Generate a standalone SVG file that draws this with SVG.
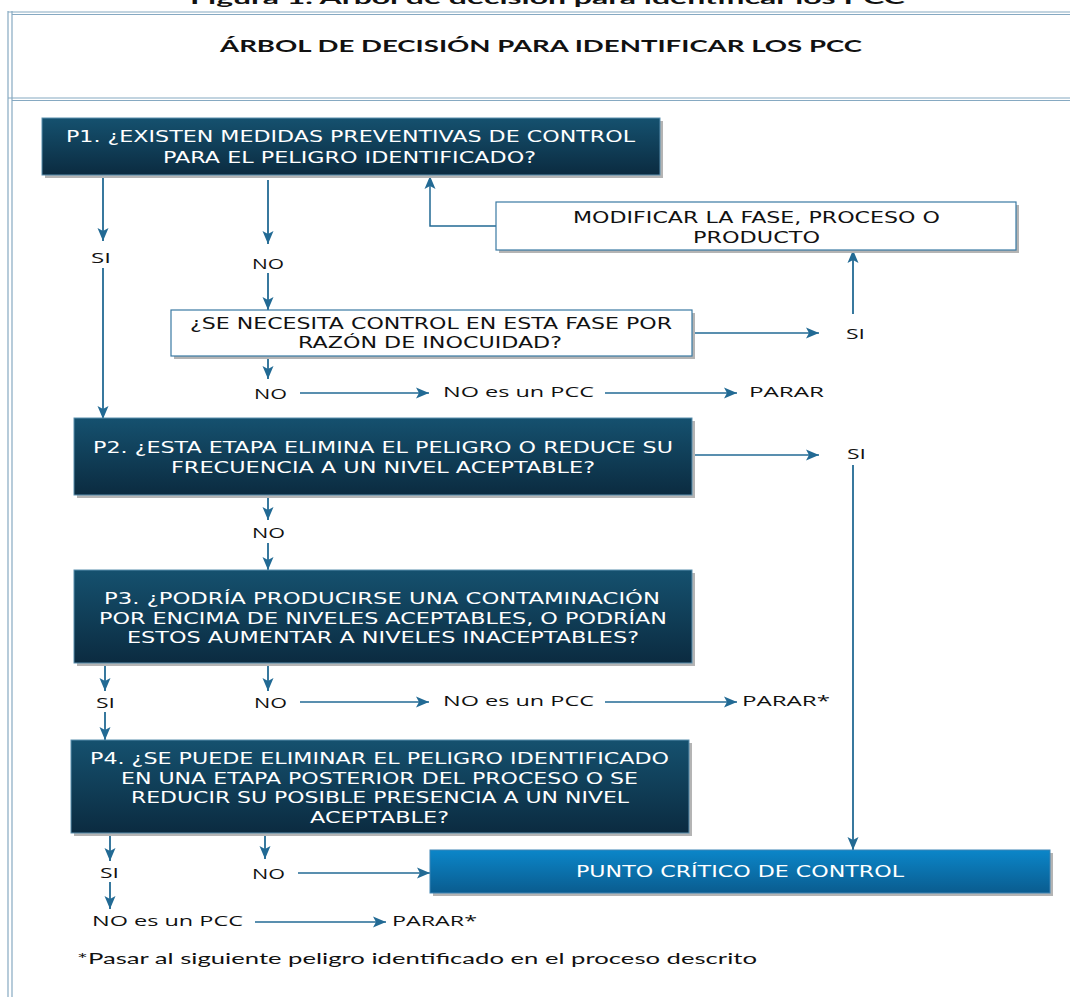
<svg xmlns="http://www.w3.org/2000/svg" width="1070" height="997" viewBox="0 0 1070 997">
<defs>
<style>
.frame{stroke:#86a9c2;stroke-width:1.2;fill:none}
.c{stroke:#226a94;stroke-width:1.8;fill:none}
.ch{stroke:#226a94;stroke-width:1.5;fill:none}
.dark{fill:url(#gDark);stroke:#5b8fae;stroke-width:1}
.light{fill:url(#gLight);stroke:#3f85b5;stroke-width:1}
.white{fill:#ffffff;stroke:#3a7aa3;stroke-width:1.2}
.shadow{fill:#b4b4b4}
.bt{font-family:"DejaVu Sans","Open Sans",sans-serif;font-size:15.5px;fill:#ffffff}
.btk{font-family:"DejaVu Sans","Open Sans",sans-serif;font-size:15.5px;fill:#111111}
.lb{font-family:"Open Sans","DejaVu Sans",sans-serif;font-size:15px;fill:#111111}
.ft{font-family:"Lato","Open Sans",sans-serif;font-size:16px;fill:#111111}
.tt{font-family:"Lato","Liberation Sans",sans-serif;font-size:17px;font-weight:bold;fill:#111111}
</style>
<linearGradient id="gDark" x1="0" y1="0" x2="0" y2="1">
<stop offset="0" stop-color="#15516f"/>
<stop offset="1" stop-color="#0b2b40"/>
</linearGradient>
<linearGradient id="gLight" x1="0" y1="0" x2="0" y2="1">
<stop offset="0" stop-color="#0b86c9"/>
<stop offset="1" stop-color="#0a5c8f"/>
</linearGradient>
<marker id="ah" markerUnits="userSpaceOnUse" markerWidth="14" markerHeight="14" viewBox="0 0 14 14" refX="13" refY="7" orient="auto">
<path d="M0,1.5 L13,7 L0,12.5 L3,7 Z" fill="#226a94"/>
</marker>
</defs>

<g id="frame">
<text x="190" y="4" class="tt" textLength="715" lengthAdjust="spacingAndGlyphs">Figura 1. Árbol de decisión para identificar los PCC</text>
<line class="frame" x1="8" y1="11" x2="8" y2="997"/>
<line class="frame" x1="12" y1="11" x2="12" y2="997"/>
<line class="frame" x1="8" y1="12" x2="1070" y2="12"/>
<line class="frame" x1="12" y1="14.5" x2="1070" y2="14.5"/>
<line class="frame" x1="8" y1="98" x2="1070" y2="98"/>
<line class="frame" x1="12" y1="100.5" x2="1070" y2="100.5"/>
<text x="220" y="52" class="tt" textLength="642" lengthAdjust="spacingAndGlyphs">ÁRBOL DE DECISIÓN PARA IDENTIFICAR LOS PCC</text>
</g>

<g id="connectors">
<line class="c" x1="103" y1="175" x2="103" y2="241" marker-end="url(#ah)"/>
<line class="c" x1="103" y1="268" x2="103" y2="419" marker-end="url(#ah)"/>
<line class="c" x1="268" y1="180" x2="268" y2="244" marker-end="url(#ah)"/>
<line class="c" x1="268" y1="273" x2="268" y2="310" marker-end="url(#ah)"/>
<polyline class="ch" points="496,226 430,226 430,176" marker-end="url(#ah)"/>
<line class="ch" x1="692" y1="333" x2="819" y2="333" marker-end="url(#ah)"/>
<line class="c" x1="853" y1="314" x2="853" y2="250" marker-end="url(#ah)"/>
<line class="c" x1="268" y1="356" x2="268" y2="379" marker-end="url(#ah)"/>
<line class="ch" x1="300" y1="393" x2="429" y2="393" marker-end="url(#ah)"/>
<line class="ch" x1="605" y1="393" x2="737" y2="393" marker-end="url(#ah)"/>
<line class="ch" x1="692" y1="455" x2="819" y2="455" marker-end="url(#ah)"/>
<line class="c" x1="853" y1="465" x2="853" y2="850" marker-end="url(#ah)"/>
<line class="c" x1="268" y1="495" x2="268" y2="520" marker-end="url(#ah)"/>
<line class="c" x1="268" y1="543" x2="268" y2="570" marker-end="url(#ah)"/>
<line class="c" x1="105" y1="663" x2="105" y2="691" marker-end="url(#ah)"/>
<line class="c" x1="105" y1="712" x2="105" y2="740" marker-end="url(#ah)"/>
<line class="c" x1="268" y1="663" x2="268" y2="691" marker-end="url(#ah)"/>
<line class="ch" x1="300" y1="702" x2="429" y2="702" marker-end="url(#ah)"/>
<line class="ch" x1="605" y1="702" x2="737" y2="702" marker-end="url(#ah)"/>
<line class="c" x1="110" y1="834" x2="110" y2="861" marker-end="url(#ah)"/>
<line class="c" x1="110" y1="882" x2="110" y2="909" marker-end="url(#ah)"/>
<line class="ch" x1="255" y1="922" x2="386" y2="922" marker-end="url(#ah)"/>
<line class="c" x1="265" y1="834" x2="265" y2="859" marker-end="url(#ah)"/>
<line class="ch" x1="298" y1="873" x2="430" y2="873" marker-end="url(#ah)"/>
</g>

<g id="p1">
<rect class="shadow" x="45" y="121" width="618" height="57"/>
<rect class="dark" x="42" y="118" width="618" height="57"/>
<text class="bt" x="66" y="142" textLength="569" lengthAdjust="spacingAndGlyphs">P1. ¿EXISTEN MEDIDAS PREVENTIVAS DE CONTROL</text>
<text class="bt" x="163" y="163" textLength="373" lengthAdjust="spacingAndGlyphs">PARA EL PELIGRO IDENTIFICADO?</text>
</g>

<g id="modificar">
<rect class="shadow" x="499" y="205" width="520" height="48"/>
<rect class="white" x="496" y="202" width="520" height="48"/>
<text class="btk" x="573" y="223" textLength="367" lengthAdjust="spacingAndGlyphs">MODIFICAR LA FASE, PROCESO O</text>
<text class="btk" x="693" y="243" textLength="127" lengthAdjust="spacingAndGlyphs">PRODUCTO</text>
</g>

<g id="se-necesita">
<rect class="shadow" x="174" y="313" width="521" height="46"/>
<rect class="white" x="171" y="310" width="521" height="46"/>
<text class="btk" x="190" y="329" textLength="482" lengthAdjust="spacingAndGlyphs">¿SE NECESITA CONTROL EN ESTA FASE POR</text>
<text class="btk" x="298" y="348" textLength="264" lengthAdjust="spacingAndGlyphs">RAZÓN DE INOCUIDAD?</text>
</g>

<g id="p2">
<rect class="shadow" x="77" y="421" width="618" height="77"/>
<rect class="dark" x="74" y="418" width="618" height="77"/>
<text class="bt" x="93" y="453" textLength="580" lengthAdjust="spacingAndGlyphs">P2. ¿ESTA ETAPA ELIMINA EL PELIGRO O REDUCE SU</text>
<text class="bt" x="171" y="473" textLength="424" lengthAdjust="spacingAndGlyphs">FRECUENCIA A UN NIVEL ACEPTABLE?</text>
</g>

<g id="p3">
<rect class="shadow" x="77" y="573" width="618" height="93"/>
<rect class="dark" x="74" y="570" width="618" height="93"/>
<text class="bt" x="104" y="604" textLength="556" lengthAdjust="spacingAndGlyphs">P3. ¿PODRÍA PRODUCIRSE UNA CONTAMINACIÓN</text>
<text class="bt" x="99" y="623.5" textLength="568" lengthAdjust="spacingAndGlyphs">POR ENCIMA DE NIVELES ACEPTABLES, O PODRÍAN</text>
<text class="bt" x="127" y="643" textLength="512" lengthAdjust="spacingAndGlyphs">ESTOS AUMENTAR A NIVELES INACEPTABLES?</text>
</g>

<g id="p4">
<rect class="shadow" x="74" y="743" width="618" height="93"/>
<rect class="dark" x="71" y="740" width="618" height="93"/>
<text class="bt" x="90" y="764" textLength="579" lengthAdjust="spacingAndGlyphs">P4. ¿SE PUEDE ELIMINAR EL PELIGRO IDENTIFICADO</text>
<text class="bt" x="121" y="783.5" textLength="517" lengthAdjust="spacingAndGlyphs">EN UNA ETAPA POSTERIOR DEL PROCESO O SE</text>
<text class="bt" x="131" y="803" textLength="498" lengthAdjust="spacingAndGlyphs">REDUCIR SU POSIBLE PRESENCIA A UN NIVEL</text>
<text class="bt" x="310" y="822.5" textLength="139" lengthAdjust="spacingAndGlyphs">ACEPTABLE?</text>
</g>

<g id="pcc">
<rect class="shadow" x="433" y="853" width="620" height="43"/>
<rect class="light" x="430" y="850" width="620" height="43"/>
<text class="bt" x="576" y="877" textLength="328" lengthAdjust="spacingAndGlyphs">PUNTO CRÍTICO DE CONTROL</text>
</g>

<g id="labels">
<text class="lb" x="91" y="263" textLength="20" lengthAdjust="spacingAndGlyphs">SI</text>
<text class="lb" x="252" y="269" textLength="32" lengthAdjust="spacingAndGlyphs">NO</text>
<text class="lb" x="846" y="339" textLength="19" lengthAdjust="spacingAndGlyphs">SI</text>
<text class="lb" x="254" y="399" textLength="33" lengthAdjust="spacingAndGlyphs">NO</text>
<text class="lb" x="443" y="397" textLength="151" lengthAdjust="spacingAndGlyphs">NO es un PCC</text>
<text class="lb" x="749" y="397" textLength="75" lengthAdjust="spacingAndGlyphs">PARAR</text>
<text class="lb" x="847" y="459" textLength="19" lengthAdjust="spacingAndGlyphs">SI</text>
<text class="lb" x="252" y="538" textLength="33" lengthAdjust="spacingAndGlyphs">NO</text>
<text class="lb" x="96" y="708" textLength="19" lengthAdjust="spacingAndGlyphs">SI</text>
<text class="lb" x="254" y="708" textLength="33" lengthAdjust="spacingAndGlyphs">NO</text>
<text class="lb" x="443" y="706" textLength="151" lengthAdjust="spacingAndGlyphs">NO es un PCC</text>
<text class="lb" x="742" y="706" textLength="88" lengthAdjust="spacingAndGlyphs">PARAR*</text>
<text class="lb" x="100" y="878" textLength="19" lengthAdjust="spacingAndGlyphs">SI</text>
<text class="lb" x="252" y="879" textLength="33" lengthAdjust="spacingAndGlyphs">NO</text>
<text class="lb" x="92" y="926" textLength="151" lengthAdjust="spacingAndGlyphs">NO es un PCC</text>
<text class="lb" x="392" y="926" textLength="85" lengthAdjust="spacingAndGlyphs">PARAR*</text>
<text class="ft" x="77" y="964" textLength="680" lengthAdjust="spacingAndGlyphs">*Pasar al siguiente peligro identificado en el proceso descrito</text>
</g>
</svg>
